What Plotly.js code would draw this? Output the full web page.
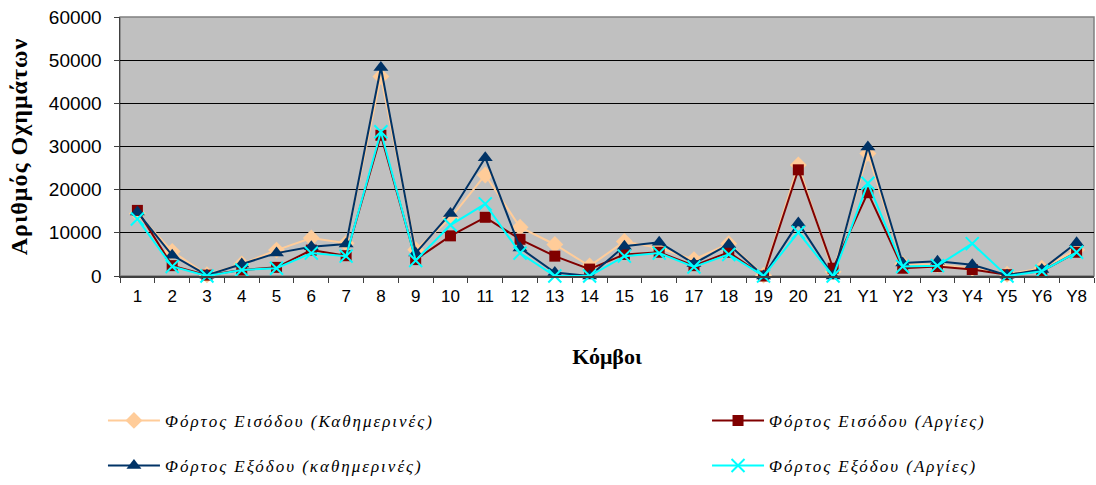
<!DOCTYPE html>
<html>
<head>
<meta charset="utf-8">
<script src="https://cdn.plot.ly/plotly-3.0.1.min.js"></script>
<style>
  html, body { margin: 0; padding: 0; background: #ffffff; }
  #chart { width: 1096px; height: 485px; }
  /* wider tracking for the italic legend labels and the y-axis title */
  .legendtext, .legend2text { letter-spacing: 2px; }
  .ytitle { letter-spacing: 1px; }
</style>
</head>
<body>
<div id="chart"></div>
<script>
// Nodes (κόμβοι) along the x axis
const nodes = ['1','2','3','4','5','6','7','8','9','10','11','12','13','14','15','16','17','18','19','20','21','Y1','Y2','Y3','Y4','Y5','Y6','Y8'];

// Entry load, weekdays
const entryWeekdays = [14500, 5700, 300, 2800, 6000, 8800, 7600, 46200, 6100, 13400, 23400, 11300, 7300, 2300, 8000, 6500, 3800, 7500, 200, 25700, 1000, 28400, 2800, 2600, 1800, 400, 1800, 6100];

// Entry load, holidays
const entryHolidays = [15200, 2400, 200, 1400, 2000, 6000, 4700, 32600, 3800, 9300, 13600, 8500, 4600, 1600, 5000, 5500, 2400, 5500, 0, 24600, 1800, 19300, 1800, 2200, 1500, 300, 1100, 5500];

// Exit load, weekdays
const exitWeekdays = [14800, 4800, 200, 2800, 5300, 6800, 7400, 48300, 5300, 14500, 27400, 6500, 800, 0, 6900, 7800, 2900, 7300, 0, 12300, 0, 29900, 3000, 3400, 2600, 200, 1500, 7700];

// Exit load, holidays
const exitHolidays = [13200, 2200, 0, 1400, 1800, 5300, 4600, 33400, 3600, 11800, 16700, 5300, 0, 0, 4600, 5300, 2100, 5000, 0, 10100, 0, 21500, 2200, 2400, 7500, 0, 1100, 5500];

const seriesNames = [
  'Φόρτος Εισόδου (Καθημερινές)',
  'Φόρτος Εισόδου (Αργίες)',
  'Φόρτος Εξόδου (καθημερινές)',
  'Φόρτος Εξόδου (Αργίες)'
];

const traces = [
  {
    x: nodes, y: entryWeekdays, name: seriesNames[0], type: 'scatter', mode: 'lines+markers',
    line: { color: '#FFCC99', width: 2 },
    marker: { symbol: 'diamond', size: 13, color: '#FFCC99' },
    cliponaxis: false,
    legend: 'legend', legendgroup: 'a'
  },
  {
    x: nodes, y: entryHolidays, name: seriesNames[1], type: 'scatter', mode: 'lines+markers',
    line: { color: '#800000', width: 2 },
    marker: { symbol: 'square', size: 11, color: '#800000' },
    cliponaxis: false,
    legend: 'legend2', legendgroup: 'b'
  },
  {
    x: nodes, y: exitWeekdays, name: seriesNames[2], type: 'scatter', mode: 'lines+markers',
    line: { color: '#003366', width: 2 },
    marker: { symbol: 'triangle-up', size: 13, color: '#003366' },
    cliponaxis: false,
    legend: 'legend', legendgroup: 'c'
  },
  {
    x: nodes, y: exitHolidays, name: seriesNames[3], type: 'scatter', mode: 'lines+markers',
    line: { color: '#00FFFF', width: 2 },
    marker: { symbol: 'x-thin', size: 13, color: '#00FFFF', line: { color: '#00FFFF', width: 2 } },
    cliponaxis: false,
    legend: 'legend2', legendgroup: 'd'
  }
];

const legendFont = { family: 'Liberation Serif, Times New Roman, serif', size: 17, style: 'italic', color: '#000000' };

function legendBox(xPos) {
  return {
    orientation: 'v',
    x: xPos, xanchor: 'left',
    y: -0.4898, yanchor: 'top',
    bgcolor: 'rgba(0,0,0,0)',
    borderwidth: 0,
    font: legendFont,
    tracegroupgap: 20,
    itemwidth: 52
  };
}

const layout = {
  width: 1096,
  height: 485,
  margin: { l: 120, r: 2, t: 17, b: 209, autoexpand: false },
  paper_bgcolor: '#ffffff',
  plot_bgcolor: '#C0C0C0',
  showlegend: true,
  font: { family: 'Liberation Sans, Arial, sans-serif', color: '#000000' },
  xaxis: {
    type: 'category',
    range: [-0.5, nodes.length - 0.5],
    tickson: 'boundaries',
    ticks: 'outside',
    ticklen: 5,
    tickcolor: '#404040',
    tickwidth: 1,
    showgrid: false,
    showline: true,
    linecolor: '#404040',
    linewidth: 1.5,
    zeroline: false,
    tickfont: { family: 'Liberation Sans, Arial, sans-serif', size: 17, color: '#000000' },
    ticklabelstandoff: 4,
    title: {
      text: 'Κόμβοι',
      font: { family: 'Liberation Serif, Times New Roman, serif', size: 22, weight: 'bold', color: '#000000' },
      standoff: 43
    },
    fixedrange: true
  },
  yaxis: {
    range: [0, 60000],
    dtick: 10000,
    ticks: 'outside',
    ticklen: 5,
    tickcolor: '#404040',
    showgrid: true,
    gridcolor: '#000000',
    gridwidth: 1,
    showline: true,
    linecolor: '#404040',
    linewidth: 1.5,
    zeroline: false,
    tickformat: 'd',
    tickfont: { family: 'Liberation Sans, Arial, sans-serif', size: 19, color: '#000000' },
    ticklabelstandoff: 8,
    title: {
      text: 'Αριθμός Οχημάτων',
      font: { family: 'Liberation Serif, Times New Roman, serif', size: 24, weight: 'bold', color: '#000000' },
      standoff: 14
    },
    fixedrange: true
  },
  shapes: [
    {
      type: 'rect', xref: 'paper', yref: 'paper', x0: 0, x1: 1, y0: 0, y1: 1,
      line: { color: '#808080', width: 1.5 }, layer: 'below'
    }
  ],
  legend: legendBox(-0.0175),
  legend2: legendBox(0.6027)
};

Plotly.newPlot('chart', traces, layout, { displayModeBar: false, staticPlot: true });
</script>
</body>
</html>
